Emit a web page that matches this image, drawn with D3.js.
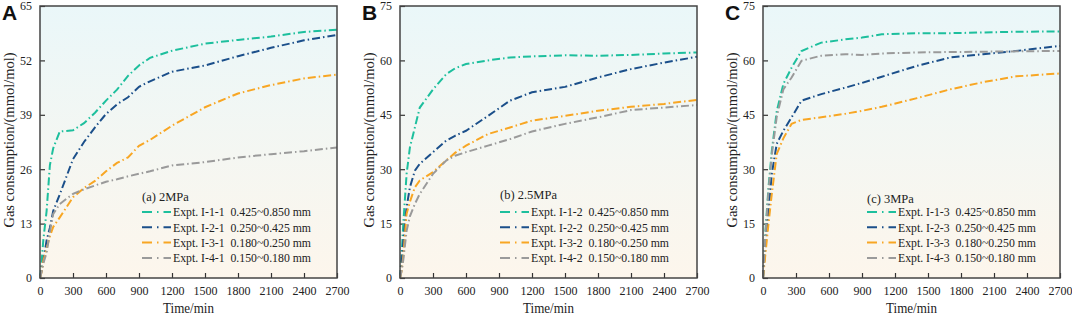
<!DOCTYPE html>
<html>
<head>
<meta charset="utf-8">
<script src="https://cdn.jsdelivr.net/npm/d3@7"></script>
<style>
body { margin: 0; background: #fff; }
</style>
</head>
<body>
<svg id="chart" width="1072" height="316"></svg>
<script>
// time points (min) per panel
const timeA = [0, 15, 30, 60, 90, 120, 180, 300, 400, 500, 600, 700, 800, 900, 1000, 1200, 1500, 1800, 2100, 2400, 2700];
const timeB = [0, 15, 30, 60, 90, 135, 180, 300, 420, 500, 600, 800, 1000, 1200, 1500, 1800, 2100, 2400, 2700];
const timeC = [0, 20, 50, 80, 125, 185, 260, 350, 530, 750, 900, 1080, 1400, 1700, 2000, 2300, 2700];

// panel A, 2 MPa
const a1 = [0, 4, 9, 16, 27, 31, 35, 35.3, 37, 39.5, 42.4, 45, 48.3, 50.8, 52.6, 54.3, 56, 56.9, 57.7, 58.8, 59.3];
const a2 = [0, 2, 4, 9, 12, 16, 20, 28.4, 32.5, 36, 39.2, 41.5, 43.2, 45.7, 47, 49.3, 50.8, 53, 55, 56.8, 58.1];
const a3 = [0, 1.5, 4, 7, 10, 12.2, 14.5, 19.3, 21.5, 23.2, 25.5, 27.5, 28.8, 31.6, 33, 36.4, 40.8, 44.1, 46.1, 47.7, 48.6];
const a4 = [0, 1.5, 3.5, 6, 11, 15.3, 17.7, 20.1, 21.2, 22.1, 23, 23.6, 24.3, 24.9, 25.5, 26.9, 27.7, 28.8, 29.6, 30.3, 31.2];

// panel B, 2.5 MPa
const b1 = [0, 6.7, 15, 28.7, 36, 41.5, 47, 52, 56.2, 57.8, 59, 60, 60.8, 61.1, 61.4, 61.3, 61.5, 61.9, 62.2];
const b2 = [0, 4, 10, 19.5, 25, 29.6, 31.5, 34.7, 37.9, 39.2, 40.6, 44.7, 48.9, 51.2, 52.7, 55.3, 57.6, 59.4, 61];
const b3 = [0, 2, 6, 17.7, 21, 25, 26.9, 29.2, 32.4, 34.5, 36.5, 39.7, 41.5, 43.4, 44.7, 46.1, 47.2, 48, 49.1];
const b4 = [0, 2, 5, 13, 17, 20.4, 23.2, 28.7, 32.4, 33.7, 34.7, 36.5, 38.3, 40.4, 42.5, 44.3, 46.3, 47, 47.7];

// panel C, 3 MPa
const c1 = [0, 12, 25, 35, 46, 53.5, 58, 62.6, 64.9, 65.8, 66.3, 67.2, 67.5, 67.5, 67.7, 67.9, 68];
const c2 = [0, 8, 18.6, 28.7, 37, 40.6, 44.3, 48.9, 50.7, 52.5, 53.8, 55.5, 58.5, 60.8, 61.7, 62.6, 64];
const c3 = [0, 6, 15, 23.2, 34.2, 38.5, 42.5, 43.6, 44.3, 45.3, 46.1, 47.2, 49.6, 52, 54, 55.6, 56.4];
const c4 = [0, 11, 24, 34, 44.5, 52, 55.3, 59.9, 61.3, 61.7, 61.5, 61.9, 62.2, 62.3, 62.4, 62.5, 62.6];

const xTicks = [0, 300, 600, 900, 1200, 1500, 1800, 2100, 2400, 2700];
const yTicksA = [0, 13, 26, 39, 52, 65];
const yTicksBC = [0, 15, 30, 45, 60, 75];

const colors = ["#1dbf9d", "#1b4f8a", "#f8a623", "#9a9a9a"];
const sizes = ["0.425~0.850 mm", "0.250~0.425 mm", "0.180~0.250 mm", "0.150~0.180 mm"];

const panels = [
  {letter: "A", title: "(a) 2MPa", suffix: "1", time: timeA, series: [a1, a2, a3, a4], yMax: 65, yTicks: yTicksA,
   left: 40, legendX: 142, legendY: 196},
  {letter: "B", title: "(b) 2.5MPa", suffix: "2", time: timeB, series: [b1, b2, b3, b4], yMax: 75, yTicks: yTicksBC,
   left: 400, legendX: 500, legendY: 194},
  {letter: "C", title: "(c) 3MPa", suffix: "3", time: timeC, series: [c1, c2, c3, c4], yMax: 75, yTicks: yTicksBC,
   left: 763, legendX: 867, legendY: 198}
];

const serif = "'Liberation Serif', 'Times New Roman', serif";
const svg = d3.select("#chart");
const plotTop = 6, plotBottom = 278, plotW = 297;
const dash = "8,3,1.5,3";

const grad = svg.append("defs").append("linearGradient")
  .attr("id", "bg").attr("x1", 0).attr("y1", 0).attr("x2", 0).attr("y2", 1);
grad.append("stop").attr("offset", "0%").attr("stop-color", "#eaf7f9");
grad.append("stop").attr("offset", "100%").attr("stop-color", "#fdf6ec");

panels.forEach(p => {
  const x = d3.scaleLinear().domain([0, 2700]).range([p.left, p.left + plotW]);
  const y = d3.scaleLinear().domain([0, p.yMax]).range([plotBottom, plotTop]);

  svg.append("rect")
    .attr("x", p.left).attr("y", plotTop)
    .attr("width", plotW).attr("height", plotBottom - plotTop)
    .attr("fill", "url(#bg)");

  // axes with inward ticks
  const xAxis = svg.append("g")
    .attr("transform", "translate(0," + plotBottom + ")")
    .call(d3.axisBottom(x).tickValues(xTicks).tickFormat(d3.format("d"))
      .tickSizeInner(-5).tickSizeOuter(0).tickPadding(8));
  const yAxis = svg.append("g")
    .attr("transform", "translate(" + p.left + ",0)")
    .call(d3.axisLeft(y).tickValues(p.yTicks).tickFormat(d3.format("d"))
      .tickSizeInner(-5).tickSizeOuter(0).tickPadding(8));
  [xAxis, yAxis].forEach(g => {
    g.select(".domain").remove();
    g.selectAll("line").attr("stroke", "#333").attr("stroke-width", 1.2);
    g.selectAll("text")
      .style("font-family", serif)
      .style("font-size", "12px")
      .attr("fill", "#222");
  });

  const lineGen = d3.line()
    .x((d, i) => x(p.time[i]))
    .y(d => y(d));

  p.series.forEach((s, k) => {
    svg.append("path")
      .datum(s)
      .attr("d", lineGen)
      .attr("fill", "none")
      .attr("stroke", colors[k])
      .attr("stroke-width", 2)
      .attr("stroke-dasharray", dash);
  });

  // frame
  svg.append("rect")
    .attr("x", p.left).attr("y", plotTop)
    .attr("width", plotW).attr("height", plotBottom - plotTop)
    .attr("fill", "none").attr("stroke", "#444").attr("stroke-width", 1.5);

  // legend
  svg.append("text")
    .attr("x", p.legendX).attr("y", p.legendY + 4.5)
    .style("font-family", serif)
    .style("font-size", "12.5px")
    .attr("fill", "#222")
    .text(p.title);
  colors.forEach((c, k) => {
    const ly = 212 + k * 15.3;
    svg.append("line")
      .attr("x1", p.legendX).attr("x2", p.legendX + 29)
      .attr("y1", ly).attr("y2", ly)
      .attr("stroke", c).attr("stroke-width", 2)
      .attr("stroke-dasharray", "10,5,1.5,5");
    svg.append("text")
      .attr("x", p.legendX + 31).attr("y", ly + 4.4)
      .style("font-family", serif)
      .style("font-size", "12.5px")
      .attr("textLength", 138)
      .attr("lengthAdjust", "spacingAndGlyphs")
      .attr("fill", "#222")
      .attr("xml:space", "preserve")
      .text("Expt. I-" + (k + 1) + "-" + p.suffix + "  " + sizes[k]);
  });

  // axis titles
  svg.append("text")
    .attr("x", p.left + plotW / 2).attr("y", 313)
    .attr("text-anchor", "middle")
    .style("font-family", serif)
    .style("font-size", "15px")
    .attr("textLength", 51)
    .attr("lengthAdjust", "spacingAndGlyphs")
    .attr("fill", "#222")
    .text("Time/min");
  svg.append("text")
    .attr("transform", "translate(" + (p.left - 26) + "," + ((plotTop + plotBottom) / 2 - 2) + ") rotate(-90)")
    .attr("text-anchor", "middle")
    .style("font-family", serif)
    .style("font-size", "14.5px")
    .attr("fill", "#222")
    .text("Gas consumption/(mmol/mol)");

  // panel letter
  svg.append("text")
    .attr("x", p.left - 38).attr("y", 20)
    .style("font-family", "'Liberation Sans', Arial, sans-serif")
    .style("font-weight", "bold")
    .style("font-size", "21px")
    .attr("fill", "#111")
    .text(p.letter);
});
</script>
</body>
</html>
